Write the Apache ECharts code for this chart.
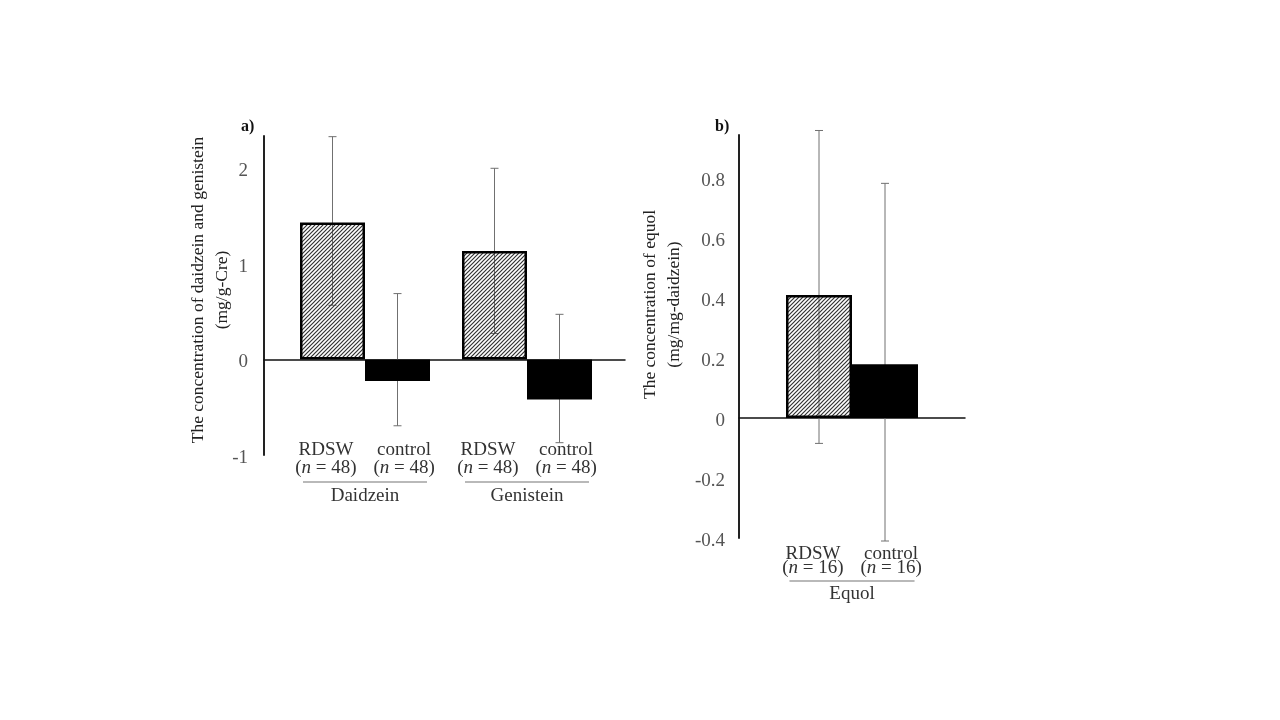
<!DOCTYPE html>
<html><head><meta charset="utf-8">
<script src="https://cdn.jsdelivr.net/npm/echarts@6/dist/echarts.min.js"></script>
<style>html,body{margin:0;padding:0;background:#fff}#c{width:1280px;height:720px}</style>
</head><body><div id="c"></div>
<script>
// ---------- data ----------
const groups = ['RDSW', 'control'];
const categoriesA = ['Daidzein', 'Genistein'];
const nA = [48, 48];
const rdswA = [1.435, 1.135];
const controlA = [-0.224, -0.418];
const rdswA_high = [2.333, 2.002];
const rdswA_low = [0.567, 0.272];
const controlA_high = [0.690, 0.473];
const controlA_low = [-0.694, -0.871];
const yMinA = -1, yMaxA = 2.34, yStepA = 1;

const categoriesB = ['Equol'];
const nB = [16, 16];
const rdswB = [0.409];
const controlB = [0.179];
const rdswB_high = [0.957];
const rdswB_low = [-0.085];
const controlB_high = [0.781];
const controlB_low = [-0.41];
const yMinB = -0.4, yMaxB = 0.942, yStepB = 0.2;

const nameA = 'The concentration of daidzein and genistein\n(mg/g-Cre)';
const nameB = 'The concentration of equol\n(mg/mg-daidzein)';

// ---------- styles ----------
const FONT = 'Liberation Serif';
const BW_A = 65, BW_B = 66;

function hatch() {
  const s = 4, c = document.createElement('canvas');
  c.width = s; c.height = s;
  const g = c.getContext('2d');
  g.strokeStyle = '#333'; g.lineWidth = 1.2;
  g.beginPath();
  g.moveTo(-1, s + 1); g.lineTo(s + 1, -1);
  g.moveTo(-1, 1); g.lineTo(1, -1);
  g.moveTo(s - 1, s + 1); g.lineTo(s + 1, s - 1);
  g.stroke();
  return c;
}
const hatchFill = { image: hatch(), repeat: 'repeat' };

function errRender(offset) {
  return function (params, api) {
    const ci = api.value(0), lo = api.value(1), hi = api.value(2);
    const p1 = api.coord([ci, hi]), p2 = api.coord([ci, lo]);
    const x = p1[0] + offset, cap = 4;
    const st = { stroke: '#707070', lineWidth: 1 };
    return { type: 'group', children: [
      { type: 'line', shape: { x1: x, y1: p1[1], x2: x, y2: p2[1] }, style: st },
      { type: 'line', shape: { x1: x - cap, y1: p1[1], x2: x + cap, y2: p1[1] }, style: st },
      { type: 'line', shape: { x1: x - cap, y1: p2[1], x2: x + cap, y2: p2[1] }, style: st }
    ]};
  };
}

function richStyles(lh, lnH, lnW) {
  return {
    t: { fontFamily: FONT, fontSize: 19, color: '#333', width: 78, align: 'center', lineHeight: lh },
    p: { fontFamily: FONT, fontSize: 19, color: '#333', lineHeight: lh },
    i: { fontFamily: FONT, fontSize: 19, color: '#333', fontStyle: 'italic', lineHeight: lh },
    sp: { width: 17, lineHeight: lh },
    ln: { width: lnW, height: 0, borderColor: '#777', borderWidth: 0.6, lineHeight: lnH }
  };
}
function catLabel(ns) {
  return function (v) {
    return '{t|' + groups[0] + '}{t|' + groups[1] + '}\n' +
      '{p|(}{i|n}{p| = ' + ns[0] + ')}{sp|}{p|(}{i|n}{p| = ' + ns[1] + ')}\n' +
      '{ln|}\n{t|' + v + '}';
  };
}

const yLabel = { fontFamily: FONT, fontSize: 19, color: '#555', verticalAlign: 'top', lineHeight: 6 };
const nameStyle = (pad) => ({ fontFamily: FONT, fontSize: 17.5, color: '#222', lineHeight: 24, padding: pad });

const option = {
  animation: false,
  backgroundColor: '#fff',
  title: [
    { text: 'a)', left: 236, top: 114, textStyle: { fontFamily: FONT, fontSize: 16, fontWeight: 'bold', color: '#111' } },
    { text: 'b)', left: 710, top: 114, textStyle: { fontFamily: FONT, fontSize: 16, fontWeight: 'bold', color: '#111' } }
  ],
  grid: [
    { left: 264, width: 361, top: 136, height: 319 },
    { left: 284, width: 324, top: 136, height: 319 },
    { left: 739, width: 226, top: 135, height: 403 }
  ],
  xAxis: [
    { gridIndex: 0, type: 'value', min: 0, max: 1, axisLine: { show: true, onZero: true, lineStyle: { color: '#111', width: 1.5 } },
      axisTick: { show: false }, axisLabel: { show: false }, splitLine: { show: false } },
    { gridIndex: 1, type: 'category', data: categoriesA, position: 'bottom',
      axisLine: { show: false, onZero: false }, axisTick: { show: false },
      axisLabel: { interval: 0, margin: -14, formatter: catLabel(nA), rich: richStyles(18, 10, 124) } },
    { gridIndex: 2, type: 'category', data: categoriesB, position: 'bottom',
      axisLine: { show: false, onZero: false }, axisTick: { show: false },
      axisLabel: { interval: 0, margin: 9, formatter: catLabel(nB), rich: richStyles(14, 12, 125) } },
    { gridIndex: 2, type: 'value', min: 0, max: 1, position: 'top', axisLine: { show: true, onZero: true, lineStyle: { color: '#111', width: 1.5 } },
      axisTick: { show: false }, axisLabel: { show: false }, splitLine: { show: false } }
  ],
  yAxis: [
    { gridIndex: 0, type: 'value', min: yMinA, max: yMaxA, interval: yStepA,
      axisLine: { show: true, lineStyle: { color: '#222', width: 2 } }, axisTick: { show: false },
      splitLine: { show: false }, axisLabel: Object.assign({ margin: 16, showMaxLabel: false }, yLabel),
      name: nameA, nameLocation: 'middle', nameGap: 30, nameMoveOverlap: false, nameTextStyle: nameStyle([0, 0, 0, 11]) },
    { gridIndex: 1, type: 'value', min: yMinA, max: yMaxA, show: false },
    { gridIndex: 2, type: 'value', min: yMinB, max: yMaxB, interval: yStepB,
      axisLine: { show: true, lineStyle: { color: '#222', width: 2 } }, axisTick: { show: false },
      splitLine: { show: false }, axisLabel: Object.assign({ margin: 14, showMaxLabel: false }, yLabel),
      name: nameB, nameLocation: 'middle', nameGap: 53, nameMoveOverlap: false, nameTextStyle: nameStyle([0, 0, 0, 64]) }
  ],
  series: [
    { type: 'custom', xAxisIndex: 1, yAxisIndex: 1, z: 1, clip: false, renderItem: errRender(-BW_A / 2),
      encode: { x: 0, y: [1, 2] }, data: categoriesA.map((c, i) => [i, rdswA_low[i], rdswA_high[i]]) },
    { type: 'custom', xAxisIndex: 1, yAxisIndex: 1, z: 1, clip: false, renderItem: errRender(BW_A / 2),
      encode: { x: 0, y: [1, 2] }, data: categoriesA.map((c, i) => [i, controlA_low[i], controlA_high[i]]) },
    { type: 'bar', name: groups[0], xAxisIndex: 1, yAxisIndex: 1, z: 3, barWidth: BW_A, barGap: 0, data: rdswA,
      itemStyle: { color: hatchFill, borderColor: '#000', borderWidth: 2.5 } },
    { type: 'bar', name: groups[1], xAxisIndex: 1, yAxisIndex: 1, z: 3, barWidth: BW_A, barGap: 0, data: controlA,
      itemStyle: { color: '#000' } },

    { type: 'custom', xAxisIndex: 2, yAxisIndex: 2, z: 1, clip: false, renderItem: errRender(-BW_B / 2),
      encode: { x: 0, y: [1, 2] }, data: categoriesB.map((c, i) => [i, rdswB_low[i], rdswB_high[i]]) },
    { type: 'custom', xAxisIndex: 2, yAxisIndex: 2, z: 1, clip: false, renderItem: errRender(BW_B / 2),
      encode: { x: 0, y: [1, 2] }, data: categoriesB.map((c, i) => [i, controlB_low[i], controlB_high[i]]) },
    { type: 'bar', name: groups[0], xAxisIndex: 2, yAxisIndex: 2, z: 3, barWidth: BW_B, barGap: 0, data: rdswB,
      itemStyle: { color: hatchFill, borderColor: '#000', borderWidth: 2.5 } },
    { type: 'bar', name: groups[1], xAxisIndex: 2, yAxisIndex: 2, z: 3, barWidth: BW_B, barGap: 0, data: controlB,
      itemStyle: { color: '#000' } }
  ]
};
const chart = echarts.init(document.getElementById('c'), null, { renderer: 'canvas' });
chart.setOption(option);
</script></body></html>
